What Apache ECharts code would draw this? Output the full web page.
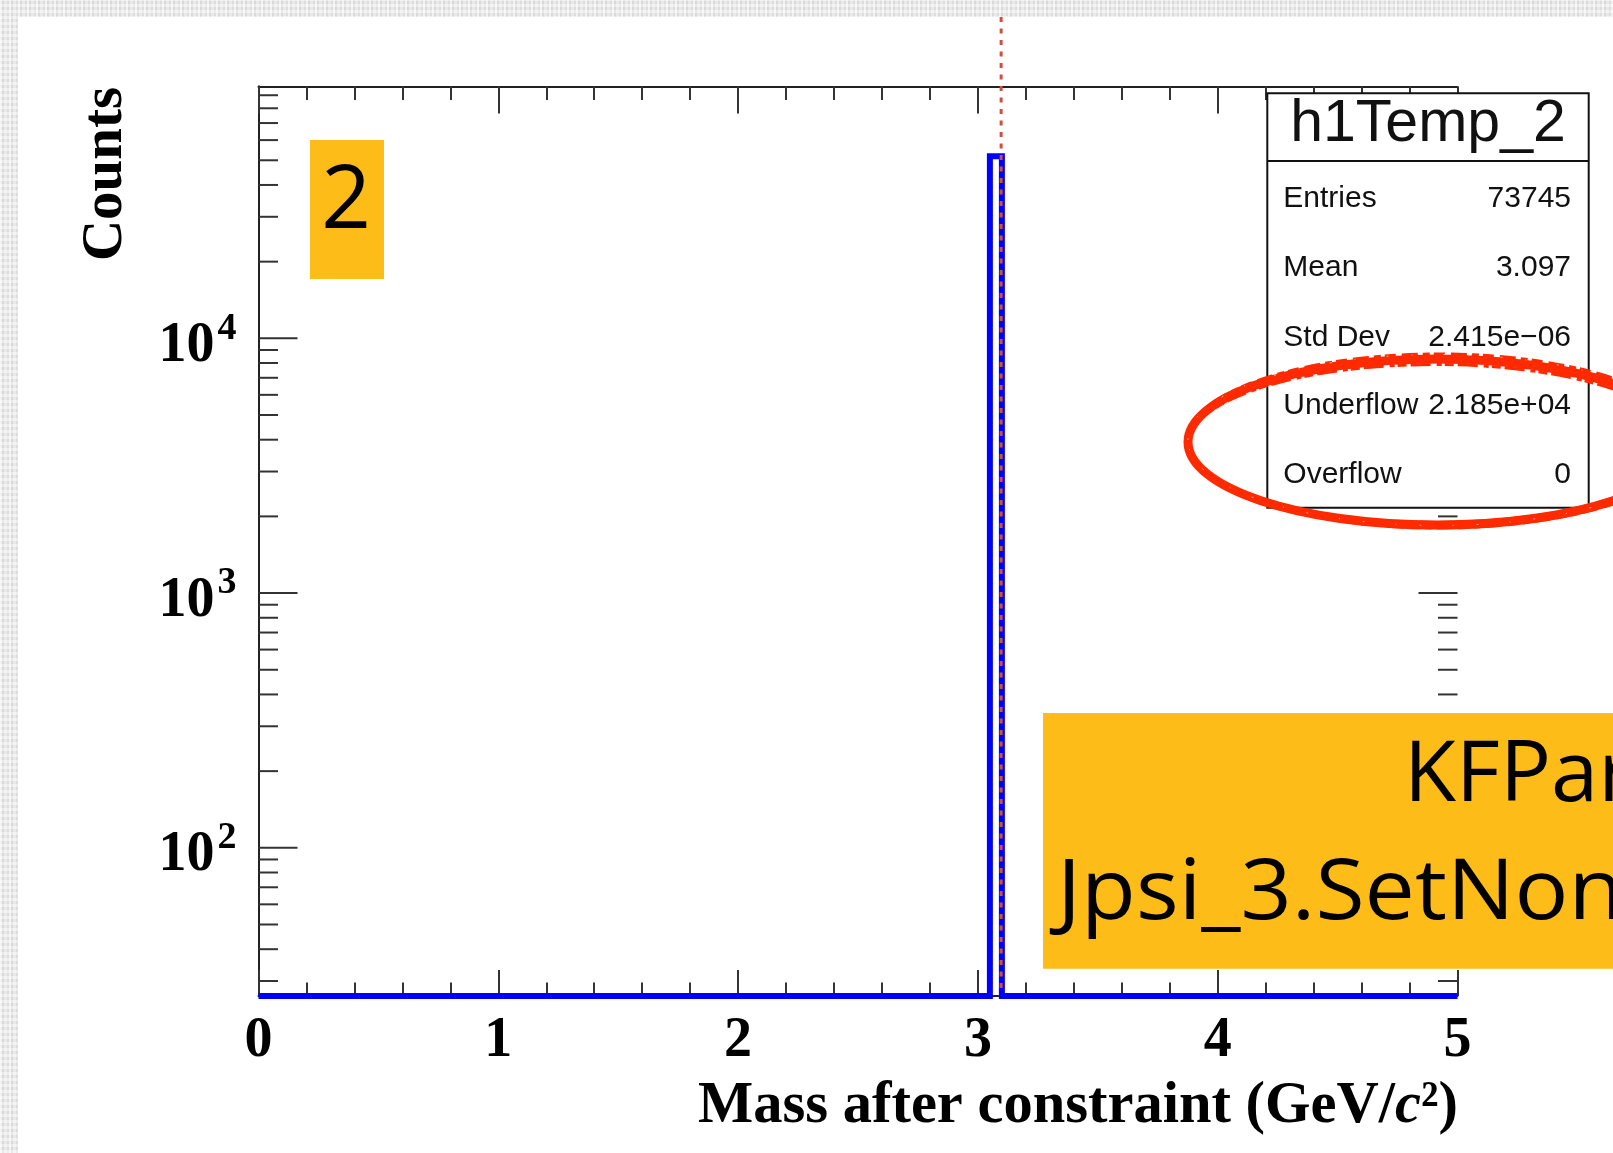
<!DOCTYPE html>
<html>
<head>
<meta charset="utf-8">
<title>h1Temp_2 - Mass after constraint</title>
<script src="https://cdn.jsdelivr.net/npm/echarts@6/dist/echarts.min.js"></script>
<style>
  html, body { margin: 0; padding: 0; }
  body {
    width: 1613px; height: 1153px; overflow: hidden; position: relative;
    background-color: #e8e8e8;
    background-image:
      repeating-linear-gradient(90deg, rgba(255,255,255,0.55) 0 2px, rgba(0,0,0,0.035) 2px 4px, rgba(255,255,255,0.25) 4px 7px, rgba(0,0,0,0.02) 7px 9px),
      repeating-linear-gradient(0deg, rgba(255,255,255,0.35) 0 3px, rgba(0,0,0,0.03) 3px 6px);
  }
  #panel { position: absolute; left: 18px; top: 17px; right: 0; bottom: 0; background: #ffffff; }
  #chart { position: absolute; left: 0; top: 0; width: 1613px; height: 1153px; }
</style>
</head>
<body>
<div id="panel"></div>
<div id="chart"></div>
<script>
// ---- histogram h1Temp_2: mass after the constraint (GeV/c^2) ----
const xMin = 0;
const xMax = 5;
const xTickStep = 1;
// bin edges and contents (all bins outside the J/psi bin are empty)
const binEdges  = [0, 3.05, 3.10, 5];
const binCounts = [0, 51895, 0];
// log-scale y range
const yMin = 26.2;
const yMax = 97400;
const yLabelValues = [100, 1000, 10000];
const yMinorMantissas = [2, 3, 4, 5, 6, 7, 8, 9];
// nominal J/psi mass used as reference line
const jpsiMass = 3.0969;

// statistics box
const statsTitle  = 'h1Temp_2';
const statsNames  = ['Entries', 'Mean', 'Std Dev', 'Underflow', 'Overflow'];
const statsValues = ['73745', '3.097', '2.415e\u221206', '2.185e+04', '0'];

// annotations
const padLabel = '2';
const noteLines = ['KFParticle', 'Jpsi_3.SetNonlinearMassConstraint'];
const xTitle = 'Mass after constraint (GeV/';
const yTitle = 'Counts';

// ---- derived series data ----
const histPoints = [];
for (let i = 0; i < binCounts.length; i++) {
  const v = binCounts[i] > 0 ? binCounts[i] : yMin;   // empty bins sit on the axis floor
  histPoints.push([binEdges[i], v], [binEdges[i + 1], v]);
}
const yTickData = [];
yLabelValues.forEach(v => yTickData.push([xMin, v, 1]));
[10, 100, 1000, 10000].forEach(d => yMinorMantissas.forEach(m => {
  const v = m * d;
  if (v > yMin && v < yMax) yTickData.push([xMin, v, 0]);
}));

// ---- layout / style ----
const SERIF = '"Liberation Serif", "Times New Roman", serif';
const SANS = '"Liberation Sans", Arial, Helvetica, sans-serif';
const NOTE = '"Open Sans", Lato, sans-serif';
const AXIS_COLOR = '#222';
const TICK_COLOR = '#333';
const ORANGE = '#FDBC17';
const RING = '#ff2a00';
const panelTop = 17;

const grid = { left: 258.5, top: 86.5, width: 1199, height: 909.5 };

function xAxisCfg(pos) {
  return {
    type: 'value', position: pos, min: xMin, max: xMax, interval: xTickStep,
    axisLine: { show: true, onZero: false, lineStyle: { color: AXIS_COLOR, width: 2 } },
    axisTick: { show: true, inside: true, length: pos === 'top' ? 27 : 26, lineStyle: { color: TICK_COLOR, width: 2 } },
    minorTick: { show: true, splitNumber: 5, length: 13.5, lineStyle: { color: TICK_COLOR, width: 2 } },
    axisLabel: {
      show: pos === 'bottom', margin: 18,
      fontFamily: SERIF, fontWeight: 'bold', fontSize: 56, color: '#000', lineHeight: 56
    },
    splitLine: { show: false }, minorSplitLine: { show: false }
  };
}
function yAxisCfg(pos) {
  return {
    type: 'log', logBase: 10, position: pos, min: yMin, max: yMax,
    axisLine: { show: true, lineStyle: { color: AXIS_COLOR, width: 2 } },
    axisTick: { show: false }, minorTick: { show: false },
    axisLabel: { show: false },
    splitLine: { show: false }, minorSplitLine: { show: false }
  };
}

// statistics box graphic
const box = { x: 1267.3, y: 93.3, w: 321.4, h: 414.4, sep: 161 };
const statsRowBaselines = [209, 278.5, 348.5, 416.5, 485];
const statsGraphics = [
  { type: 'rect', z: 50, shape: { x: box.x, y: box.y, width: box.w, height: box.h },
    style: { fill: '#fff', stroke: '#111', lineWidth: 2 } },
  { type: 'line', z: 51, shape: { x1: box.x, y1: box.sep, x2: box.x + box.w, y2: box.sep },
    style: { stroke: '#111', lineWidth: 2 } },
  { type: 'text', z: 52, x: box.x + box.w / 2, y: 145 - 0.3465 * 59,
    style: { text: statsTitle, font: '59px ' + SANS, fill: '#111', align: 'center', verticalAlign: 'middle' } }
];
statsNames.forEach((name, i) => {
  const y = statsRowBaselines[i] - 0.3465 * 30;
  statsGraphics.push(
    { type: 'text', z: 52, x: 1283.3, y: y,
      style: { text: name, font: '30px ' + SANS, fill: '#111', align: 'left', verticalAlign: 'middle' } },
    { type: 'text', z: 52, x: 1571, y: y,
      style: { text: statsValues[i], font: '30px ' + SANS, fill: '#111', align: 'right', verticalAlign: 'middle' } }
  );
});

// hand-drawn red ring around the under/overflow rows (several passes of a marker)
const ringGraphics = [
  { type: 'ellipse', z: 60, shape: { cx: 1437, cy: 442, rx: 249, ry: 83 },
    style: { fill: 'none', stroke: RING, lineWidth: 9 } },
  { type: 'ellipse', z: 60, shape: { cx: 1435, cy: 443.5, rx: 246, ry: 79 },
    style: { fill: 'none', stroke: RING, lineWidth: 3, lineDash: [9, 4, 20, 6, 5, 3] } },
  { type: 'ellipse', z: 60, shape: { cx: 1439, cy: 441, rx: 252, ry: 87 },
    style: { fill: 'none', stroke: RING, lineWidth: 3, lineDash: [16, 5, 7, 4, 11, 6] } },
  { type: 'ellipse', z: 60, shape: { cx: 1438, cy: 440, rx: 250, ry: 85.5 },
    style: { fill: 'none', stroke: '#ffffff', lineWidth: 1, opacity: 0.6, lineDash: [2, 23, 1, 31] } }
];

const noteGraphics = [
  { type: 'rect', z: 40, shape: { x: 310, y: 140, width: 74, height: 139 }, style: { fill: ORANGE } },
  { type: 'text', z: 41, x: 346, y: 203.5,
    style: { text: padLabel, font: '87px ' + NOTE, fill: '#000', align: 'center', verticalAlign: 'middle' } },
  { type: 'rect', z: 40, shape: { x: 1043, y: 713, width: 600, height: 255.7 }, style: { fill: ORANGE } },
  { type: 'text', z: 41, x: 1404, y: 777,
    style: { text: noteLines[0], font: '85px ' + NOTE, fill: '#000', align: 'left', verticalAlign: 'middle' } },
  { type: 'text', z: 41, x: 1057, y: 894.3, scaleX: 1.055,
    style: { text: noteLines[1], font: '85px ' + NOTE, fill: '#000', align: 'left', verticalAlign: 'middle' } }
];

const titleGraphics = [
  { type: 'text', z: 30, x: 1458, y: 1127 - 0.3375 * 58.5,
    style: {
      text: '{b|' + xTitle + '}{i|c}{b|\u00b2)}',
      align: 'right', verticalAlign: 'middle', fill: '#000',
      rich: {
        b: { fontFamily: SERIF, fontWeight: 'bold', fontSize: 58.5, fill: '#000' },
        i: { fontFamily: SERIF, fontWeight: 'bold', fontStyle: 'italic', fontSize: 58.5, fill: '#000' }
      }
    } },
  { type: 'text', z: 30, x: 105.8, y: 174, rotation: Math.PI / 2,
    style: { text: yTitle, font: 'bold 57px ' + SERIF, fill: '#000', align: 'center', verticalAlign: 'middle' } }
];

const chart = echarts.init(document.getElementById('chart'), null, { renderer: 'canvas' });
chart.setOption({
  animation: false,
  backgroundColor: 'transparent',
  grid: Object.assign({ containLabel: false, outerBoundsMode: 'none' }, grid),
  xAxis: [xAxisCfg('bottom'), xAxisCfg('top')],
  yAxis: [yAxisCfg('left'), yAxisCfg('right')],
  series: [
    {
      name: statsTitle, type: 'line', xAxisIndex: 0, yAxisIndex: 0,
      data: histPoints, showSymbol: false, symbol: 'none', clip: false, z: 3,
      lineStyle: { color: '#0000ff', width: 6, join: 'miter', cap: 'butt' }
    },
    {
      // log-axis ticks on both vertical frame sides
      type: 'custom', coordinateSystem: 'cartesian2d', xAxisIndex: 0, yAxisIndex: 0,
      data: yTickData, encode: { x: 0, y: 1 }, silent: true, z: 2,
      renderItem: function (params, api) {
        const v = api.value(1);
        const len = api.value(2) ? 39 : 19.5;
        const l = api.coord([xMin, v]);
        const r = api.coord([xMax, v]);
        const st = { stroke: TICK_COLOR, lineWidth: 2 };
        return { type: 'group', children: [
          { type: 'line', shape: { x1: l[0], y1: l[1], x2: l[0] + len, y2: l[1] }, style: st },
          { type: 'line', shape: { x1: r[0], y1: r[1], x2: r[0] - len, y2: r[1] }, style: st }
        ] };
      }
    },
    {
      // 10^n labels of the log axis
      type: 'custom', coordinateSystem: 'cartesian2d', xAxisIndex: 0, yAxisIndex: 0,
      data: yLabelValues.map(v => [xMin, v]), encode: { x: 0, y: 1 }, silent: true, z: 2,
      renderItem: function (params, api) {
        const v = api.value(1);
        const p = api.coord([xMin, v]);
        const exp = String(Math.round(Math.log10(v)));
        return { type: 'group', children: [
          { type: 'text', x: p[0] - 44, y: p[1] + 8,
            style: { text: '10', font: 'bold 56px ' + SERIF, fill: '#000', align: 'right', verticalAlign: 'middle' } },
          { type: 'text', x: p[0] - 41, y: p[1] - 9.5,
            style: { text: exp, font: 'bold 38px ' + SERIF, fill: '#000', align: 'left', verticalAlign: 'middle' } }
        ] };
      }
    },
    {
      // dashed reference line at the nominal J/psi mass
      type: 'custom', coordinateSystem: 'cartesian2d', xAxisIndex: 0, yAxisIndex: 0,
      data: [[jpsiMass, yMin]], encode: { x: 0, y: 1 }, silent: true, z: 5,
      renderItem: function (params, api) {
        const p = api.coord([api.value(0), api.value(1)]);
        return { type: 'line', shape: { x1: p[0], y1: panelTop, x2: p[0], y2: p[1] - 5 },
          style: { stroke: '#d0503f', lineWidth: 3, lineDash: [5, 6.5] } };
      }
    }
  ],
  graphic: { elements: [].concat(noteGraphics, statsGraphics, ringGraphics, titleGraphics) }
});
</script>
</body>
</html>
